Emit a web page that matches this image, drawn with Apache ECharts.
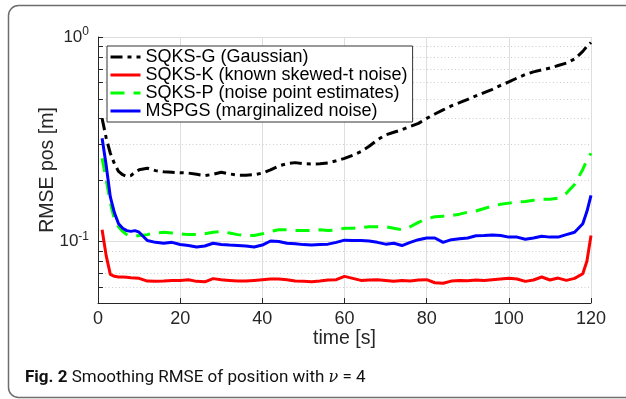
<!DOCTYPE html>
<html><head><meta charset="utf-8">
<script src="https://cdn.jsdelivr.net/npm/echarts@6/dist/echarts.min.js"></script>
<style>html,body{margin:0;padding:0;background:#fff}#c{width:626px;height:399px}</style>
</head><body><div id="c"></div>
<script>
const seriesNames = ['SQKS-G (Gaussian)', 'SQKS-K (known skewed-t noise)', 'SQKS-P (noise point estimates)', 'MSPGS (marginalized noise)'];
const time = [1,2,3,4,5,6,7,8,9,10,12,14,16,18,20,22,24,26,28,30,32,34,36,38,40,42,44,46,48,50,52,54,56,58,60,62,64,66,68,70,72,74,76,78,80,82,84,86,88,90,92,94,96,98,100,102,104,106,108,110,112,114,116,118,119,120];
const sqksG = [0.40,0.32,0.27,0.24,0.22,0.212,0.208,0.21,0.218,0.224,
  0.228,0.222,0.219,0.218,0.217,0.216,0.213,0.21,0.213,0.218,
  0.214,0.211,0.211,0.212,0.216,0.224,0.234,0.24,0.243,0.24,
  0.239,0.24,0.242,0.248,0.255,0.264,0.275,0.292,0.314,0.332,
  0.342,0.352,0.365,0.378,0.40,0.42,0.44,0.46,0.477,0.495,
  0.515,0.535,0.555,0.58,0.603,0.63,0.655,0.675,0.69,0.705,
  0.725,0.745,0.78,0.85,0.90,0.94];
const sqksK = [0.114,0.085,0.069,0.0675,0.067,0.067,0.0668,0.0665,0.0663,0.066,
  0.064,0.0638,0.064,0.0645,0.0645,0.065,0.0638,0.0635,0.0658,0.065,
  0.0645,0.064,0.064,0.0645,0.065,0.0655,0.0655,0.065,0.064,0.0638,
  0.0636,0.064,0.0648,0.065,0.0675,0.066,0.0645,0.0648,0.065,0.0645,
  0.0638,0.0645,0.064,0.0648,0.065,0.0628,0.0625,0.064,0.0645,0.0643,
  0.0648,0.0645,0.065,0.0655,0.066,0.0655,0.0638,0.0648,0.067,0.0648,
  0.0662,0.0645,0.066,0.0695,0.08,0.107];
const sqksP = [0.255,0.20,0.155,0.128,0.118,0.112,0.108,0.106,0.106,0.107,
  0.108,0.11,0.111,0.11,0.109,0.108,0.108,0.109,0.111,0.112,
  0.11,0.108,0.107,0.107,0.109,0.112,0.114,0.114,0.113,0.113,
  0.113,0.114,0.113,0.114,0.116,0.116,0.117,0.118,0.118,0.118,
  0.116,0.114,0.118,0.124,0.129,0.132,0.133,0.134,0.136,0.139,
  0.141,0.145,0.149,0.152,0.154,0.156,0.157,0.159,0.161,0.161,
  0.163,0.172,0.19,0.225,0.25,0.27];
const mspgs = [0.32,0.235,0.165,0.138,0.122,0.116,0.113,0.112,0.113,0.111,
  0.101,0.099,0.098,0.099,0.0966,0.0955,0.094,0.095,0.098,0.0966,
  0.096,0.0955,0.095,0.094,0.096,0.1005,0.1,0.098,0.0975,0.0965,
  0.096,0.0965,0.097,0.099,0.1015,0.101,0.101,0.1005,0.099,0.097,
  0.098,0.0955,0.099,0.102,0.104,0.104,0.099,0.102,0.103,0.104,
  0.1066,0.107,0.1075,0.107,0.105,0.105,0.1025,0.104,0.106,0.105,
  0.105,0.108,0.111,0.122,0.14,0.168];
const xMin = 0, xMax = 120, xStep = 20;
const yMin = 0.05, yMax = 1;
const yMajor = [0.1, 1];
const yMinor = [0.06, 0.07, 0.08, 0.09, 0.2, 0.3, 0.4, 0.5, 0.6, 0.7, 0.8, 0.9];
const caption = ['Fig. 2', 'Smoothing RMSE of position with', 'ν', '= 4'];

const FONT = 'Liberation Sans';
const AX = '#262626';
const colors = ['#000000', '#ff0000', '#00ff00', '#0000ff'];
const dashes = [[12, 5, 4, 5], null, [14, 9], null];
const values = [sqksG, sqksK, sqksP, mspgs];

function pairs(arr) { return time.map((t, i) => [t, arr[i]]); }

function gridRender(major) {
  return function (params, api) {
    const v = api.value(1);
    const a = api.coord([xMin, v]);
    const b = api.coord([xMax, v]);
    const y = Math.round(a[1]) + 0.5;
    return {
      type: 'group',
      children: [
        { type: 'line', shape: { x1: a[0], y1: y, x2: b[0], y2: y },
          style: { stroke: major ? '#dedede' : '#cccccc', lineWidth: 1, lineDash: major ? null : [1, 2.5] } },
        { type: 'line', shape: { x1: a[0], y1: y, x2: a[0] + 5, y2: y },
          style: { stroke: AX, lineWidth: 1 } }
      ]
    };
  };
}

const series = seriesNames.map((name, i) => ({
  name: name, type: 'line', data: pairs(values[i]), symbol: 'none', showSymbol: false, z: 3,
  lineStyle: { color: colors[i], width: 3, type: dashes[i] || 'solid' },
  itemStyle: { color: colors[i] }
}));
series.push({ type: 'custom', silent: true, z: 1, data: yMinor.map(v => [xMin, v]), renderItem: gridRender(false), encode: { x: 0, y: 1 } });
series.push({ type: 'custom', silent: true, z: 1, data: yMajor.map(v => [xMin, v]), renderItem: gridRender(true), encode: { x: 0, y: 1 } });

const chart = echarts.init(document.getElementById('c'), null, { renderer: 'canvas' });
chart.setOption({
  animation: false,
  backgroundColor: '#ffffff',
  grid: { left: 98, right: 35, top: 37, bottom: 96, containLabel: false },
  xAxis: {
    type: 'value', min: xMin, max: xMax, interval: xStep,
    name: 'time [s]', nameLocation: 'middle', nameGap: 26, nameMoveOverlap: false,
    nameTextStyle: { fontFamily: FONT, fontSize: 19.5, color: AX },
    axisLine: { show: true, lineStyle: { color: AX, width: 1 } },
    axisTick: { show: true, inside: true, length: 5, lineStyle: { color: AX } },
    axisLabel: { fontFamily: FONT, fontSize: 18, color: AX, margin: 7 },
    splitLine: { show: true, lineStyle: { color: '#dedede', width: 1 } }
  },
  yAxis: {
    type: 'log', logBase: 10, min: yMin, max: yMax,
    name: 'RMSE pos [m]', nameLocation: 'middle', nameGap: 40, nameMoveOverlap: false,
    nameTextStyle: { fontFamily: FONT, fontSize: 19.5, color: AX },
    axisLine: { show: true, lineStyle: { color: AX, width: 1 } },
    axisTick: { show: false },
    splitLine: { show: false },
    axisLabel: {
      margin: 9, showMinLabel: false,
      formatter: function (v) {
        const l = Math.log10(v); const e = Math.round(l);
        if (Math.abs(l - e) > 1e-6) return '';
        return '{b|10}{s|' + e + '}';
      },
      rich: {
        b: { fontFamily: FONT, fontSize: 17, color: AX, lineHeight: 22 },
        s: { fontFamily: FONT, fontSize: 12, color: AX, lineHeight: 12, verticalAlign: 'top' }
      }
    }
  },
  legend: {
    data: seriesNames, orient: 'vertical', left: 107, top: 46,
    itemWidth: 30, itemHeight: 14, itemGap: 0, padding: [2, 5, 2, 2],
    backgroundColor: '#ffffff', borderColor: '#333333', borderWidth: 1,
    itemStyle: { opacity: 0 },
    lineStyle: { width: 3 },
    textStyle: { fontFamily: FONT, fontSize: 18, color: '#000', lineHeight: 18 }
  },
  graphic: [
    { type: 'rect', silent: true, z: -10, shape: { x: 8.5, y: 5.5, width: 700, height: 392, r: 10 },
      style: { fill: 'none', stroke: '#6e6e6e', lineWidth: 1.5 } },
    { type: 'text', left: 25, top: 369, silent: true,
      style: {
        text: '{b|' + caption[0] + '} ' + caption[1] + ' {i|' + caption[2] + '} ' + caption[3],
        fontFamily: 'Roboto', fontSize: 17, fill: '#111',
        rich: {
          b: { fontFamily: 'Roboto', fontSize: 17, fontWeight: 'bold', fill: '#111' },
          i: { fontFamily: 'DejaVu Serif', fontSize: 16, fontStyle: 'italic', fill: '#111' }
        }
      } }
  ],
  series: series
});
</script></body></html>
